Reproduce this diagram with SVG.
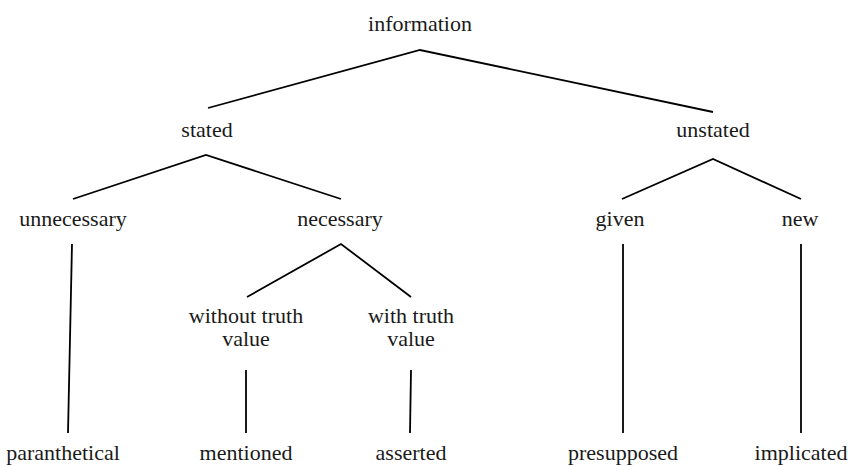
<svg xmlns="http://www.w3.org/2000/svg" width="848" height="466" viewBox="0 0 848 466">
  <style>
    .edge { stroke: #000; stroke-width: 1.8; fill: none; }
  </style>
  <rect width="848" height="466" fill="#fff"/>
  <g id="connectors">
    <polyline class="edge" points="208,108 420,50 713,112"/>
    <polyline class="edge" points="73,199 206,155 341,199"/>
    <polyline class="edge" points="247,297 341,244 411,297"/>
    <polyline class="edge" points="622,199 713,159 801,199"/>
    <line class="edge" x1="72" y1="244" x2="68" y2="433"/>
    <line class="edge" x1="246" y1="370" x2="246" y2="433"/>
    <line class="edge" x1="411" y1="370" x2="410" y2="433"/>
    <line class="edge" x1="623" y1="244" x2="623" y2="433"/>
    <line class="edge" x1="801" y1="244" x2="801" y2="433"/>
  </g>
  <g id="labels" font-family="'Liberation Serif', 'DejaVu Serif', serif" font-size="22" fill="#1a1a1a" text-anchor="middle">
    <g id="information"><text x="420" y="31">information</text></g>
    <g id="stated"><text x="207" y="137">stated</text></g>
    <g id="unstated"><text x="713" y="137">unstated</text></g>
    <g id="unnecessary"><text x="73" y="226">unnecessary</text></g>
    <g id="necessary"><text x="340" y="226">necessary</text></g>
    <g id="given"><text x="620" y="226">given</text></g>
    <g id="new"><text x="800" y="226">new</text></g>
    <g id="without-truth-value"><text x="246" y="323">without truth</text><text x="246" y="346">value</text></g>
    <g id="with-truth-value"><text x="411" y="323">with truth</text><text x="411" y="346">value</text></g>
    <g id="paranthetical"><text x="63" y="460">paranthetical</text></g>
    <g id="mentioned"><text x="246" y="460">mentioned</text></g>
    <g id="asserted"><text x="411" y="460">asserted</text></g>
    <g id="presupposed"><text x="623" y="460">presupposed</text></g>
    <g id="implicated"><text x="801" y="460">implicated</text></g>
  </g>
</svg>
